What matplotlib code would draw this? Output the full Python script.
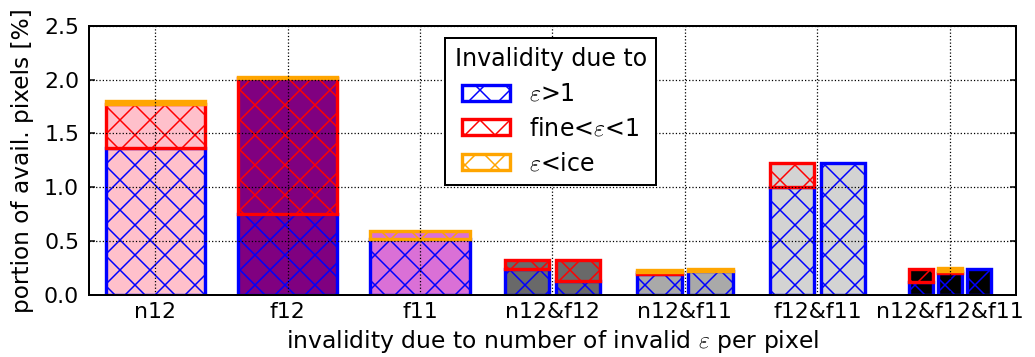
import matplotlib
matplotlib.use("Agg")
import matplotlib.pyplot as plt
from matplotlib.patches import Patch

categories = ["n12", "f12", "f11", "n12&f12", "n12&f11", "f12&f11", "n12&f12&f11"]
face_colors = ["pink", "purple", "orchid", "dimgray", "darkgray", "lightgray", "black"]

# one inner list per category, one value per sub-bar [%]
eps_gt_1 = [[1.36], [0.75], [0.52], [0.24, 0.13], [0.19, 0.22], [1.00, 1.22], [0.12, 0.20, 0.24]]
fine_eps_1 = [[0.41], [1.26], [0.0], [0.08, 0.19], [0.02, 0.0], [0.22, 0.0], [0.12, 0.02, 0.0]]
eps_ice = [[0.03], [0.01], [0.07], [0.0, 0.0], [0.02, 0.02], [0.0, 0.0], [0.0, 0.03, 0.0]]

series_labels = [r"$\varepsilon$>1", r"fine<$\varepsilon$<1", r"$\varepsilon$<ice"]
series_colors = ["blue", "red", "orange"]

plt.rcParams["font.family"] = "DejaVu Sans"
plt.rcParams["mathtext.fontset"] = "cm"
plt.rcParams["font.size"] = 8.8
plt.rcParams["hatch.linewidth"] = 0.6
plt.rcParams["axes.linewidth"] = 0.8
plt.rcParams["axes.axisbelow"] = False

fig = plt.figure(figsize=(5.75, 357 / 180), dpi=180)
ax = fig.add_axes([0.086, 0.1745, 0.8956, 0.7535])

# bar width and spacing depend on how many sub-bars share a category
widths = {1: 0.75, 2: 0.335, 3: 0.18}
steps = {1: 0.0, 2: 0.385, 3: 0.22}

for i in range(len(categories)):
    n = len(eps_gt_1[i])
    for j in range(n):
        x = i + (j - (n - 1) / 2.0) * steps[n]
        bottom = 0.0
        for values, ec in zip([eps_gt_1, fine_eps_1, eps_ice], series_colors):
            h = values[i][j]
            if h <= 0:
                continue
            ax.bar(x, h, widths[n], bottom=bottom, color=face_colors[i],
                   edgecolor=ec, hatch="xx", linewidth=1.35)
            bottom += h

ax.set_xlim(-0.5, len(categories) - 0.5)
ax.set_ylim(0, 2.5)
ax.set_xticks(range(len(categories)))
ax.set_xticklabels(categories)
ax.set_yticks([0.0, 0.5, 1.0, 1.5, 2.0, 2.5])
ax.set_yticklabels(["%.1f" % v for v in [0.0, 0.5, 1.0, 1.5, 2.0, 2.5]])
ax.tick_params(axis="x", length=0, pad=3.0)
ax.tick_params(axis="y", direction="in", right=True, length=2.5, width=0.6, pad=4)
ax.grid(True, color="k", linestyle=":", linewidth=0.5)

ax.set_xlabel(r"invalidity due to number of invalid $\varepsilon$ per pixel",
              fontsize=9.4, labelpad=2.5)
ax.set_ylabel("portion of avail. pixels [%]", fontsize=9.3, labelpad=4)

handles = [Patch(facecolor="white", edgecolor=c, hatch="xx", linewidth=1.35)
           for c in series_colors]
leg = ax.legend(handles, series_labels, title="Invalidity due to",
                loc="upper center", bbox_to_anchor=(0.498, 0.955),
                fontsize=9.5, fancybox=False, framealpha=1, edgecolor="black",
                handlelength=2.0, handleheight=0.65, handletextpad=0.8,
                labelspacing=0.45, borderpad=0.4, borderaxespad=0)
leg.get_title().set_fontsize(9.5)
leg.get_frame().set_linewidth(0.8)

fig.savefig("out.png", dpi=180, facecolor="white")
